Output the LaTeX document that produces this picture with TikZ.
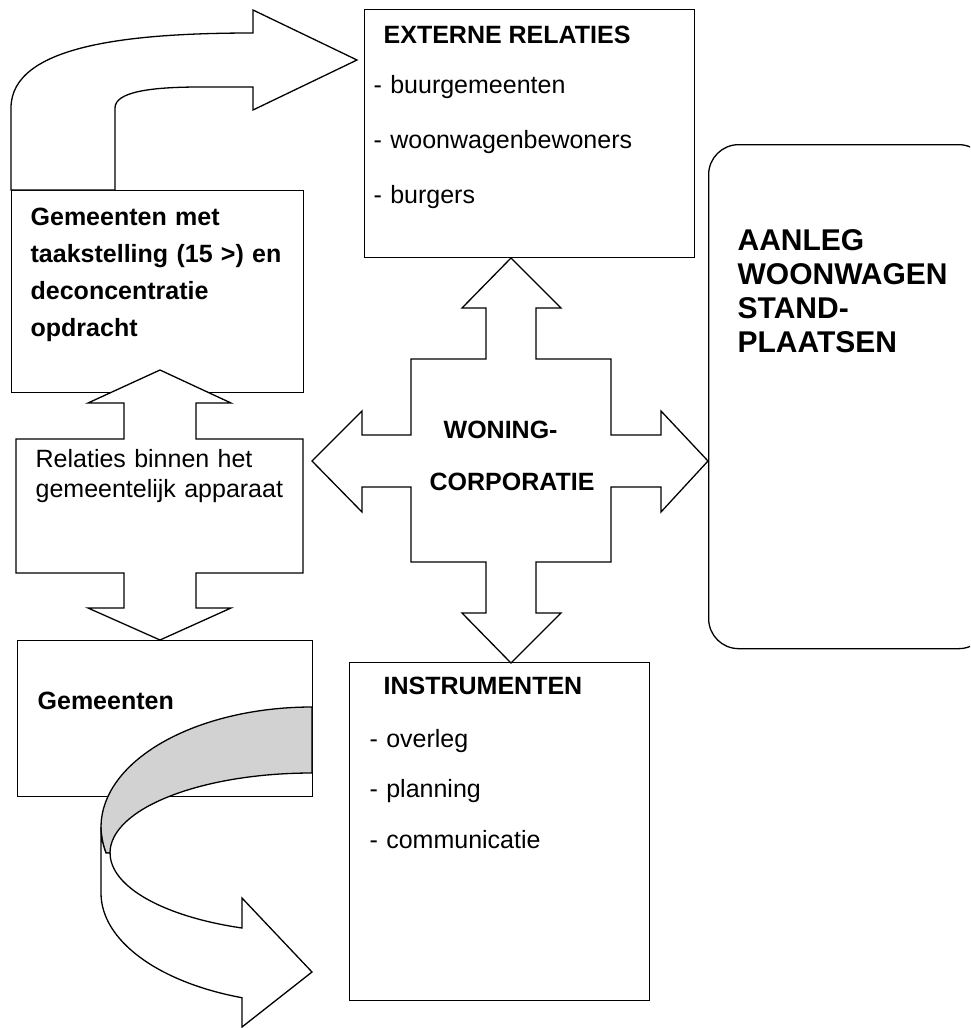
\documentclass[tikz,border=0pt]{standalone}
\usepackage{fontspec}
\setmainfont{Liberation Sans}

\begin{document}
\begin{tikzpicture}[x=1pt, y=-1pt, line width=1.3pt,
  box/.style={draw, anchor=north west, inner sep=0pt},
  txt/.style={anchor=base west, inner sep=0pt, font=\fontsize{25}{30}\selectfont},
  bold/.style={txt, font=\fontsize{25}{37}\selectfont\bfseries},
  blockarrow/.style={draw, fill=white, line join=miter}]
  \useasboundingbox (0,0) rectangle (970,1028);
  \clip (0,0) rectangle (970,1028);

  % boxes
  \node[box, minimum width=330pt, minimum height=248pt] (ext) at (364,9) {};
  \node[box, minimum width=292pt, minimum height=202pt] (taak) at (11,190) {};
  \node[box, minimum width=295pt, minimum height=156pt] (gem) at (17,640) {};
  \node[box, minimum width=300pt, minimum height=338pt] (instr) at (349,662) {};
  \node[box, rounded corners=30pt, minimum width=280pt, minimum height=504pt] (aanleg) at (708,144) {};

  % bent arrow to the external relations
  \filldraw[blockarrow] (taak.north west) -- (11,108) .. controls (11,45) and (130,33) .. (253,33)
    -- (253,10) -- (357,60) -- (253,110) -- (253,87) -- (200,87)
    .. controls (150,87) and (115,92) .. (115,108) -- (115,190) -- cycle;

  % double arrow between the municipal boxes
  \filldraw[blockarrow] (160,370) -- (231,403) -- (196,403) -- (196,439) -- (303,439)
    -- (303,573) -- (196,573) -- (196,608) -- (231,608) -- (gem.north -| 160,0)
    -- (88,608) -- (124,608) -- (124,573) -- (16,573) -- (16,439) -- (124,439)
    -- (124,403) -- (88,403) -- cycle;

  % four-way arrow of the corporation
  \filldraw[blockarrow] (511,258) -- (561,308) -- (536,308) -- (536,359) -- (611,359)
    -- (611,435) -- (661,435) -- (661,411) -- (aanleg.west |- 0,461) -- (661,512)
    -- (661,487) -- (611,487) -- (611,562) -- (536,562) -- (536,613) -- (561,613)
    -- (511,663) -- (462,613) -- (486,613) -- (486,562) -- (411,562) -- (411,487)
    -- (362,487) -- (362,512) -- (312,461) -- (362,411) -- (362,435) -- (411,435)
    -- (411,359) -- (486,359) -- (486,308) -- (462,308) -- cycle;

  % curled ribbon arrow
  \filldraw[blockarrow, fill=gray!35] (312,707)
    arc[start angle=270, end angle=167.5, x radius=211, y radius=120] -- (110,853)
    arc[start angle=180, end angle=270, x radius=202, y radius=80] -- cycle;
  \filldraw[blockarrow] (106,853)
    arc[start angle=167.5, end angle=180, x radius=211, y radius=120] -- (101,893)
    arc[start angle=180, end angle=109.4, x radius=211, y radius=111]
    -- (242,1027) -- (312,972) -- (242,898) -- (242,928)
    arc[start angle=110.3, end angle=180, x radius=202, y radius=80] -- cycle;

  % texts
  \node[bold] (exttitle) at (383,43) {EXTERNE RELATIES};
  \node[txt, text width=310pt, align=left, font=\fontsize{25}{55}\selectfont] (extlist) at (373,93)
    {- buurgemeenten\\ - woonwagenbewoners\\ - burgers};
  \node[bold, text width=280pt, align=left] (taaktext) at (30,225)
    {Gemeenten met\\ taakstelling (15 >) en\\ deconcentratie\\ opdracht};
  \node[txt, text width=280pt, align=left] (reltext) at (35,467)
    {Relaties binnen het\\ gemeentelijk apparaat};
  \node[bold] (gemtext) at (37,709) {Gemeenten};
  \node[bold] (woning) at (443,438) {WONING-};
  \node[bold] (corp) at (429,490) {CORPORATIE};
  \node[bold] (instrtitle) at (383,694) {INSTRUMENTEN};
  \node[txt, text width=270pt, align=left, font=\fontsize{25}{50.5}\selectfont] (instrlist) at (369,747)
    {- overleg\\ - planning\\ - communicatie};
  \node[bold, text width=240pt, align=left, font=\fontsize{30}{34}\selectfont\bfseries] (aanlegtext) at (737,250)
    {AANLEG\\ WOONWAGEN\\ STAND-\\ PLAATSEN};
\end{tikzpicture}
\end{document}
